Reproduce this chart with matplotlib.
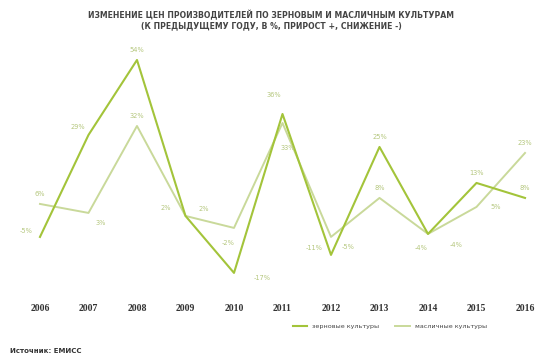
import matplotlib
matplotlib.use("Agg")
import matplotlib.pyplot as plt

# Data: year-over-year change in producer prices, %
years = ["2006", "2007", "2008", "2009", "2010", "2011", "2012", "2013", "2014", "2015", "2016"]
grain = [-5, 29, 54, 2, -17, 36, -11, 25, -4, 13, 8]
oilseed = [6, 3, 32, 2, -2, 33, -5, 8, -4, 5, 23]

series_names = ["зерновые культуры", "масличные культуры"]
title_lines = [
    "ИЗМЕНЕНИЕ ЦЕН ПРОИЗВОДИТЕЛЕЙ ПО ЗЕРНОВЫМ И МАСЛИЧНЫМ КУЛЬТУРАМ",
    "(К ПРЕДЫДУЩЕМУ ГОДУ, В %, ПРИРОСТ +, СНИЖЕНИЕ -)",
]
source_text = "Источник: ЕМИСС"

# label offsets in points (dx, dy) for each data label
grain_offsets = [(-10, 4), (-8, 6), (0, 7), (-14, 6), (20, -4), (-6, 14), (-12, 5), (0, 7), (-5, -10), (0, 7), (0, 7)]
oil_offsets = [(0, 7), (9, -7), (0, 7), (13, 5), (-4, -11), (4, -18), (12, -7), (0, 7), (20, -8), (14, 0), (0, 7)]

c_grain = "#a3c43a"
c_oil = "#c9d99a"
label_color = "#b5c77e"

fig = plt.figure(figsize=(5.42, 3.58), dpi=100)
ax = fig.add_axes([15 / 542, 1 - 290 / 358, 520 / 542, 245 / 358])

x = list(range(len(years)))
ax.plot(x, oilseed, color=c_oil, lw=1.4, label=series_names[1], zorder=2)
ax.plot(x, grain, color=c_grain, lw=1.5, label=series_names[0], zorder=3)

def annotate(vals, offsets):
    for xi, v, (dx, dy) in zip(x, vals, offsets):
        ax.annotate(f"{v}%", (xi, v), xytext=(dx, dy), textcoords="offset points",
                    ha="center", va="center", fontsize=4.8, color=label_color)

annotate(grain, grain_offsets)
annotate(oilseed, oil_offsets)

ax.set_xlim(-0.515, 10.206)
ax.set_ylim(-22.7, 59)
ax.set_xticks(x)
ax.set_xticklabels(years, fontfamily="Liberation Serif", fontweight="bold",
                   fontsize=7, color="#333333")
ax.tick_params(axis="x", length=0, pad=10)
ax.set_yticks([])
for s in ax.spines.values():
    s.set_visible(False)

handles, labels = ax.get_legend_handles_labels()
fig.legend(handles[::-1], labels[::-1], loc="center", bbox_to_anchor=(390 / 542, 1 - 326 / 358),
           ncol=2, frameon=False, fontsize=4.6, handlelength=2.2, columnspacing=2.5,
           labelcolor="#444444")

fig.text(0.5, 1 - 15 / 358, title_lines[0], ha="center", va="center",
         fontsize=5.6, fontweight="bold", color="#444444")
fig.text(0.5, 1 - 26 / 358, title_lines[1], ha="center", va="center",
         fontsize=5.6, fontweight="bold", color="#444444")
fig.text(10 / 542, 1 - 351 / 358, source_text, ha="left", va="center",
         fontsize=5, fontweight="bold", color="#333333")

fig.savefig("out.png", dpi=100, facecolor="white")
